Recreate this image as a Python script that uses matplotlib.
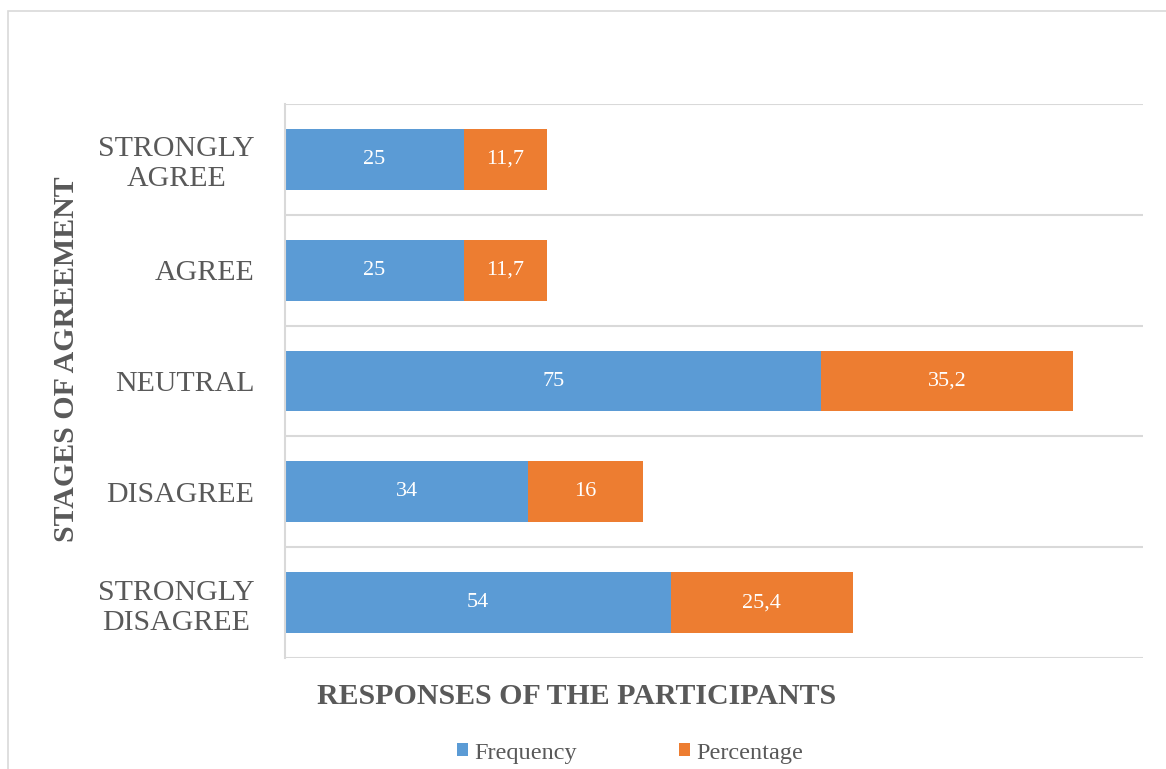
import matplotlib.pyplot as plt
from matplotlib.patches import Rectangle

categories = ["STRONGLY\nDISAGREE", "DISAGREE", "NEUTRAL", "AGREE", "STRONGLY\nAGREE"]
frequency = [54, 34, 75, 25, 25]
percentage = [25.4, 16, 35.2, 11.7, 11.7]

BLUE = "#5B9BD5"
ORANGE = "#ED7D31"
TXT = "#595959"
GRID = "#D9D9D9"

plt.rcParams["font.family"] = ["Liberation Serif", "DejaVu Serif"]

fig = plt.figure(figsize=(11.66, 7.69), dpi=100)
ax = fig.add_axes([285 / 1166, 1 - 658 / 769, (1143 - 285) / 1166, (658 - 104) / 769])

# outer chart border
fig.patches.append(Rectangle((8 / 1166, -0.05), 1.2, 1 - 11 / 769 + 0.05,
                             transform=fig.transFigure, fill=False,
                             edgecolor=GRID, linewidth=1.2))

y = range(len(categories))
ax.barh(y, frequency, height=0.55, color=BLUE, label="Frequency")
ax.barh(y, percentage, left=frequency, height=0.55, color=ORANGE, label="Percentage")


def fmt(v):
    return f"{v:g}".replace(".", ",")


for i in y:
    ax.text(frequency[i] / 2, i, fmt(frequency[i]), ha="center", va="center",
            color="white", fontsize=16)
    ax.text(frequency[i] + percentage[i] / 2, i, fmt(percentage[i]), ha="center",
            va="center", color="white", fontsize=16)

ax.set_xlim(0, 120)
ax.set_ylim(-0.5, 4.5)
ax.set_xticks([])
ax.set_yticks(list(y))
ax.set_yticklabels(categories, fontsize=21.5, color=TXT, ma="center")
ax.tick_params(axis="y", length=0, pad=22)
ax.set_yticks([i + 0.5 for i in range(-1, 5)], minor=True)
ax.tick_params(axis="y", which="minor", length=0)
ax.grid(axis="y", which="minor", color=GRID, linewidth=1.5)
ax.set_axisbelow(True)

for s in ["top", "right", "bottom"]:
    ax.spines[s].set_visible(False)
ax.spines["left"].set_color(GRID)
ax.spines["left"].set_linewidth(1.5)

ax.set_xlabel("RESPONSES OF THE PARTICIPANTS", fontsize=21.5, fontweight="bold",
              color=TXT)
ax.xaxis.set_label_coords((577 - 285) / (1143 - 285), -0.045)
ax.set_ylabel("STAGES OF AGREEMENT", fontsize=21.5, fontweight="bold", color=TXT)
ax.yaxis.set_label_coords(-(285 - 80) / (1143 - 285), 0.54)

fig.legend(loc="center", bbox_to_anchor=(630 / 1166, 1 - 753 / 769), ncol=2,
           frameon=False, fontsize=17.5, handlelength=0.45, handleheight=0.45,
           handletextpad=0.25, columnspacing=4.2, labelcolor=TXT)

fig.savefig("out.png", dpi=100, facecolor="white")
